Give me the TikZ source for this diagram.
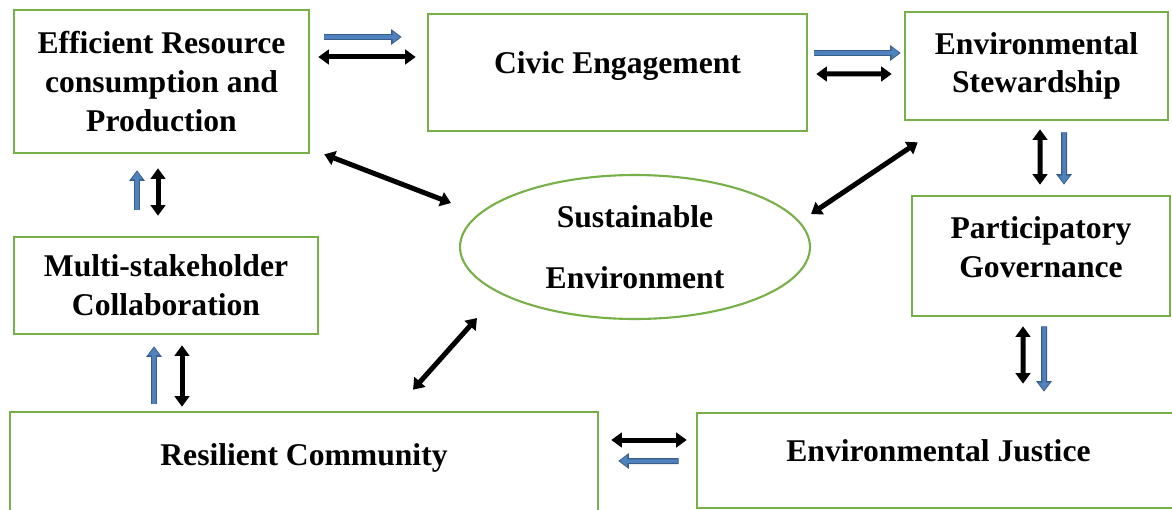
\documentclass[tikz,border=0pt]{standalone}
\usepackage{fontspec}
\setmainfont{Liberation Serif}
\usetikzlibrary{arrows.meta,calc,shapes.geometric}

\definecolor{boxgreen}{RGB}{119,176,72}
\definecolor{flowblue}{RGB}{79,129,189}
\definecolor{flowedge}{RGB}{56,93,138}

\begin{document}
\begin{tikzpicture}[
    x=0.02cm, y=-0.02cm,
    font=\fontsize{18}{22}\selectfont\bfseries,
    box/.style={rectangle, draw=boxgreen, line width=1.5pt, align=center},
    lift/.style={text depth=#1},
    goal/.style={ellipse, draw=boxgreen, line width=1.2pt, align=center, minimum width=7cm, minimum height=2.88cm},
    twoway/.style={{Triangle[width=0.29cm,length=0.21cm]}-{Triangle[width=0.29cm,length=0.21cm]}, line width=0.1cm},
    oneway/.style={-{Triangle[width=0.21cm,length=0.15cm]}, draw=flowblue, line width=0.07cm, shorten >=0.03cm,
        preaction={draw=flowedge, line width=0.12cm, shorten >=0cm, -{Triangle[width=0.3cm,length=0.21cm]}}},
]
\useasboundingbox (0,0) rectangle (1172,510);

% boxes
\node[box, minimum width=5.9cm, minimum height=2.86cm] (eff) at (161.5,81.5) {Efficient Resource\\consumption and\\Production};
\node[box, lift=0.38cm, minimum width=7.58cm, minimum height=2.34cm] (civic) at (617.5,72.5) {Civic Engagement};
\node[box, minimum width=5.26cm, minimum height=2.16cm] (stew) at (1036.5,66) {Environmental\\Stewardship};
\node[box, lift=0.36cm, minimum width=5.16cm, minimum height=2.4cm] (part) at (1041,256) {Participatory\\Governance};
\node[box, minimum width=6.08cm, minimum height=1.94cm] (multi) at (166,285.5) {Multi-stakeholder\\Collaboration};
\node[box, lift=0.3cm, minimum width=11.76cm, minimum height=2cm] (res) at (304,462) {Resilient Community};
\node[box, lift=0.4cm, minimum width=9.66cm, minimum height=1.9cm] (just) at (938.5,460.5) {Environmental Justice};
\node[goal] (sus) at (635,247) {Sustainable\\[13pt]Environment};

% top row
\draw[oneway] ($(eff.east)+(14,-44.5)$) -- ($(civic.west)+(-25,-35.5)$);
\draw[twoway] ($(eff.east)+(8,-24.5)$) -- ($(civic.west)+(-11,-15.5)$);
\draw[oneway] ($(civic.east)+(6,-19.5)$) -- ($(stew.west)+(-3,-13)$);
\draw[twoway] ($(civic.east)+(8,1.5)$) -- ($(stew.west)+(-12,8)$);

% right column
\draw[twoway] ($(stew.south)+(3.5,8)$) -- ($(part.north)+(-1,-10)$);
\draw[oneway] ($(stew.south)+(27.5,11)$) -- ($(part.north)+(23,-10)$);
\draw[twoway] ($(part.south)+(-18,9)$) -- ($(just.north)+(84.5,-28)$);
\draw[oneway] ($(part.south)+(3,9)$) -- ($(just.north)+(105.5,-20)$);

% bottom row
\draw[twoway] ($(just.west)+(-9,-20.5)$) -- ($(res.east)+(12,-22)$);
\draw[oneway] ($(just.west)+(-17,0.5)$) -- ($(res.east)+(19,-1)$);

% left column
\draw[oneway] ($(res.north)+(-150,-7)$) -- ($(multi.south)+(-12,11)$);
\draw[twoway] ($(res.north)+(-122,-4)$) -- ($(multi.south)+(16,10)$);
\draw[oneway] ($(multi.north)+(-29,-26)$) -- ($(eff.south)+(-24.5,16)$);
\draw[twoway] ($(multi.north)+(-8,-20)$) -- ($(eff.south)+(-3.5,14)$);

% links to the centre
\draw[twoway] ($(eff.south east)+(14,0)$) -- ($(sus.west)+(-8,-44)$);
\draw[twoway] ($(stew.south west)+(14,21)$) -- ($(sus.east)+(0,-33)$);
\draw[twoway] ($(res.north)+(109,-21)$) -- ($(sus.south)+(-158,-2)$);

\end{tikzpicture}
\end{document}
